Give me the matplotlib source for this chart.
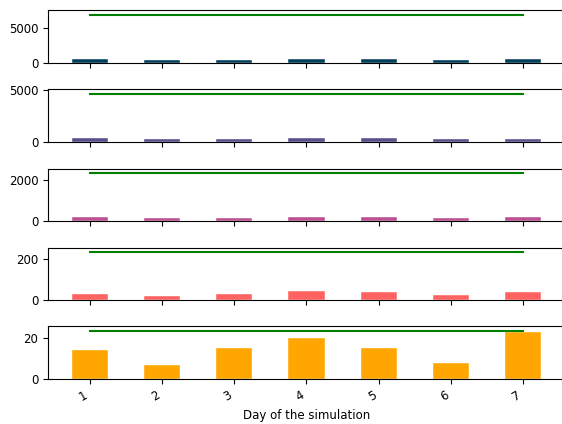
import matplotlib
matplotlib.use("Agg")
import matplotlib.pyplot as plt

days = [1, 2, 3, 4, 5, 6, 7]

# Werte pro Kategorie
series1 = [570, 430, 430, 580, 580, 430, 580]
series2 = [415, 320, 320, 415, 415, 320, 320]
series3 = [185, 140, 140, 185, 185, 180, 185]
series4 = [27, 18, 27, 42, 37, 22, 40]
series5 = [14, 7, 15, 20, 15, 8, 23]

capacities = [6960, 4615, 2314, 234, 23.4]
yticks = [[0, 5000], [0, 5000], [0, 2000], [0, 200], [0, 20]]
colours = ["#003f5c", "#58508d", "#bc5090", "#ff6361", "#ffa600"]

plt.rcParams["font.size"] = 8.5

W, H = 562, 424
fig = plt.figure(figsize=(W / 100, H / 100), dpi=100)

# Achsen-Positionen in Pixeln (oben, unten)
panels = [(9.7, 63), (89.3, 142.3), (168.7, 221.3), (247.7, 299.7), (326, 379)]
left, right = 48, 565

allSeries = [series1, series2, series3, series4, series5]
x = list(range(len(days)))
for i, (top, bottom) in enumerate(panels):
    ax = fig.add_axes([left / W, 1 - bottom / H, (right - left) / W, (bottom - top) / H])
    ax.bar(x, allSeries[i], width=0.5, color=colours[i], edgecolor="white", linewidth=0.3)
    ax.plot([x[0], x[-1]], [capacities[i], capacities[i]], color="green", linewidth=1.5)
    ax.set_xlim(-0.575, len(days) - 1 + 0.575)
    ax.set_ylim(0, capacities[i] * 1.1)
    ax.set_xticks(x)
    ax.set_yticks(yticks[i])
    if i < len(panels) - 1:
        ax.set_xticklabels([])
    else:
        ax.set_xticklabels([str(d) for d in days], rotation=30, ha="right")
        ax.set_xlabel("Day of the simulation")

fig.savefig("out.png", dpi=100)
